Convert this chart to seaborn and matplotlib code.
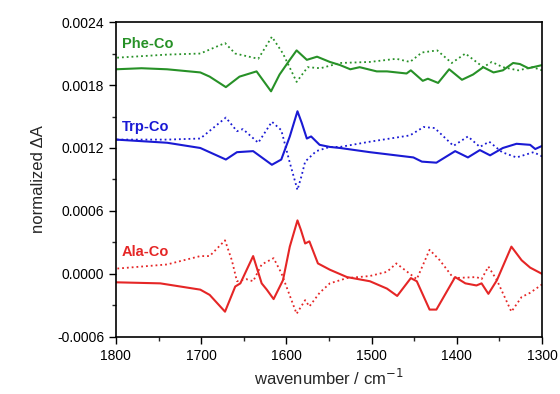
import matplotlib
matplotlib.use("Agg")
import matplotlib.pyplot as plt
from matplotlib.ticker import MultipleLocator, FixedLocator
import seaborn as sns
import pandas as pd

# ---- data ----
phe_solid_x = [1800,1770,1740,1701,1690,1671,1655,1635,1618,1608,1596,1588,1576,1564,1549,1537,1525,1514,1494,1482,1459,1454,1440,1434,1422,1409,1394,1381,1369,1357,1346,1334,1326,1316,1300]
phe_solid_y = [0.00195,0.00196,0.00195,0.00192,0.00188,0.00178,0.00188,0.00193,0.00174,0.00190,0.00204,0.00213,0.00204,0.00207,0.00202,0.00199,0.00195,0.00197,0.00193,0.00193,0.00191,0.00194,0.00184,0.00186,0.00182,0.00195,0.00185,0.00190,0.00197,0.00192,0.00194,0.00201,0.00200,0.00196,0.00199]

phe_dot_x = [1800,1740,1701,1672,1660,1633,1617,1604,1588,1575,1560,1537,1502,1471,1455,1441,1423,1406,1390,1369,1359,1346,1328,1311,1300]
phe_dot_y = [0.00206,0.00209,0.00210,0.00220,0.00210,0.00205,0.00226,0.00210,0.00183,0.00197,0.00196,0.00201,0.00202,0.00205,0.00202,0.00211,0.00213,0.00201,0.00210,0.00197,0.00202,0.00197,0.00194,0.00197,0.00194]

trp_solid_x = [1800,1740,1701,1671,1658,1639,1617,1606,1596,1587,1582,1576,1571,1561,1549,1537,1502,1451,1441,1424,1402,1387,1373,1361,1346,1330,1314,1308,1300]
trp_solid_y = [0.00128,0.00125,0.00120,0.00109,0.00116,0.00117,0.00104,0.00109,0.00131,0.00155,0.00144,0.00129,0.00131,0.00123,0.00121,0.00120,0.00116,0.00111,0.00107,0.00106,0.00117,0.00111,0.00118,0.00113,0.00120,0.00124,0.00123,0.00119,0.00122]

trp_dot_x = [1800,1740,1701,1671,1658,1651,1633,1617,1606,1596,1587,1582,1578,1565,1549,1537,1502,1455,1439,1426,1404,1387,1373,1362,1347,1330,1310,1300]
trp_dot_y = [0.00128,0.00128,0.00129,0.00149,0.00136,0.00138,0.00125,0.00145,0.00137,0.00106,0.00080,0.00094,0.00107,0.00117,0.00121,0.00121,0.00126,0.00132,0.00140,0.00139,0.00122,0.00131,0.00121,0.00126,0.00116,0.00111,0.00116,0.00112]

ala_solid_x = [1800,1748,1701,1690,1672,1660,1654,1639,1629,1623,1615,1604,1596,1587,1583,1578,1573,1563,1549,1529,1502,1482,1470,1454,1447,1432,1424,1402,1390,1377,1371,1363,1353,1336,1324,1314,1300]
ala_solid_y = [-0.00008,-0.00009,-0.00015,-0.00020,-0.00036,-0.00012,-0.00009,0.00017,-0.00009,-0.00015,-0.00024,-0.00006,0.00026,0.00051,0.00042,0.00029,0.00031,0.00010,0.00004,-0.00003,-0.00007,-0.00014,-0.00021,-0.00004,-0.00007,-0.00034,-0.00034,-0.00003,-0.00009,-0.00011,-0.00009,-0.00019,-0.00006,0.00026,0.00013,0.00006,0.0]

ala_dot_x = [1800,1740,1701,1690,1672,1664,1658,1647,1639,1629,1615,1606,1588,1578,1573,1561,1549,1529,1502,1482,1471,1447,1432,1420,1404,1377,1371,1363,1353,1336,1324,1314,1300]
ala_dot_y = [0.00005,0.00009,0.00017,0.00017,0.00032,0.00013,-0.00007,-0.00005,-0.00007,0.00009,0.00015,0.00001,-0.00038,-0.00025,-0.00031,-0.00018,-0.00009,-0.00004,-0.00002,0.00002,0.00010,-0.00005,0.00023,0.00013,-0.00004,-0.00003,-0.00005,0.00007,-0.00006,-0.00036,-0.00022,-0.00018,-0.00010]

labels = ["Phe-Co", "Trp-Co", "Ala-Co"]
label_y = [0.00219, 0.00140, 0.00021]

# ---- style ----
sns.set_style("ticks")
plt.rcParams['font.family'] = ['Liberation Sans', 'DejaVu Sans']

fig = plt.figure(figsize=(5.6, 3.94), dpi=100)
ax = fig.add_axes([0.207, 0.145, 0.761, 0.799])

green = "#279127"
blue = "#1a1ad4"
red = "#e52626"

series = [
    (phe_solid_x, phe_solid_y, green, "-"),
    (phe_dot_x, phe_dot_y, green, ":"),
    (trp_solid_x, trp_solid_y, blue, "-"),
    (trp_dot_x, trp_dot_y, blue, ":"),
    (ala_solid_x, ala_solid_y, red, "-"),
    (ala_dot_x, ala_dot_y, red, ":"),
]
for xs, ys, c, ls in series:
    df = pd.DataFrame({"x": xs, "y": ys})
    sns.lineplot(data=df, x="x", y="y", ax=ax, color=c, linestyle=ls,
                 linewidth=1.5 if ls == "-" else 1.3, estimator=None)

for lab, ly, c in zip(labels, label_y, [green, blue, red]):
    ax.text(1793, ly, lab, color=c, fontsize=10.5, fontweight="bold",
            ha="left", va="center")

ax.set_xlim(1800, 1300)
ax.set_ylim(-0.0006, 0.0024)
ax.xaxis.set_major_locator(MultipleLocator(100))
ax.xaxis.set_minor_locator(MultipleLocator(50))
ax.yaxis.set_major_locator(FixedLocator([-0.0006, 0.0, 0.0006, 0.0012, 0.0018, 0.0024]))
ax.yaxis.set_minor_locator(MultipleLocator(0.0003))
ax.set_yticklabels(["-0.0006", "0.0000", "0.0006", "0.0012", "0.0018", "0.0024"])
ax.tick_params(which="major", direction="out", length=5, width=1, labelsize=10, colors="black")
ax.tick_params(which="minor", direction="out", length=3, width=1)
ax.tick_params(top=False, right=False, which="both")
for s in ax.spines.values():
    s.set_linewidth(1.2)
    s.set_color("black")
    s.set_visible(True)

ax.set_xlabel("wavenumber / cm$^{-1}$", fontsize=12)
ax.set_ylabel("normalized ΔA", fontsize=12, labelpad=8)

fig.savefig("out.png", dpi=100)
